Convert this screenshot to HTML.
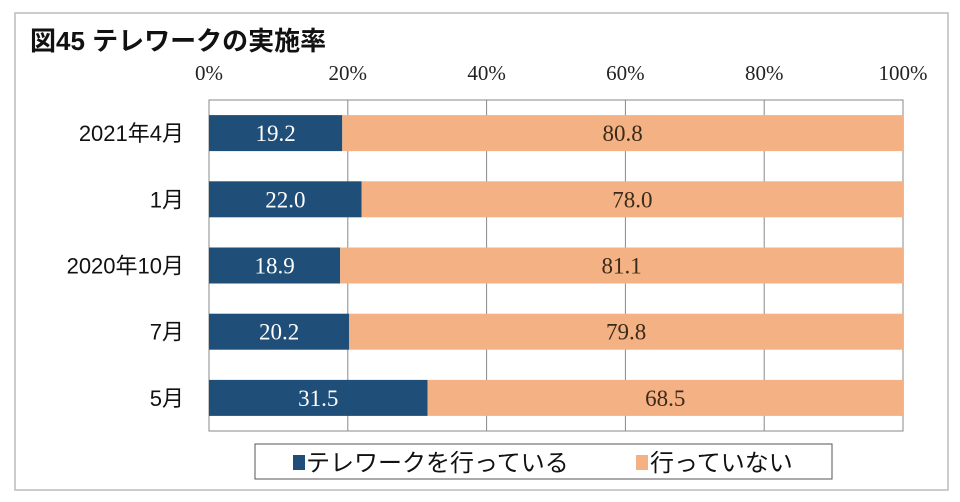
<!DOCTYPE html>
<html><head><meta charset="utf-8"><style>
body{margin:0;width:960px;height:502px;background:#fff;overflow:hidden}
svg{display:block}
.jp{font-family:"Liberation Sans","Noto Sans CJK JP",sans-serif}
.sf{font-family:"Liberation Serif","Noto Serif CJK SC",serif}
</style></head><body>
<svg width="960" height="502">
<rect x="15" y="13" width="933" height="477" fill="#fff" stroke="#bbb" stroke-width="1.5"/>
<text x="30" y="50" class="jp" font-size="26" font-weight="bold" fill="#111">図45 テレワークの実施率</text>
<g id="grid"></g><g id="bars"></g><g id="ticks"></g><g id="cats"></g>
<g>
<rect x="255" y="444" width="577" height="35" fill="#fff" stroke="#555" stroke-width="1"/>
<rect x="293" y="455" width="12" height="15" fill="#1f4e79"/>
<text x="306" y="471" class="jp" font-size="24" fill="#111">テレワークを行っている</text>
<rect x="636" y="455" width="12" height="15" fill="#f4b183"/>
<text x="650" y="471" class="jp" font-size="24" fill="#111">行っていない</text>
</g>
</svg>
<script>
const categories=["2021年4月","1月","2020年10月","7月","5月"];
const doing=[19.2,22.0,18.9,20.2,31.5];
const notDoing=[80.8,78.0,81.1,79.8,68.5];
const ticks=[0,20,40,60,80,100];
const NS="http://www.w3.org/2000/svg";
const X0=209,X1=903,Y0=100,Y1=431;
const x=v=>X0+(X1-X0)*v/100;
const band=(Y1-Y0)/categories.length, bh=36;
const yc=i=>Y0+band*(i+0.5);
function mk(t,a,p){const e=document.createElementNS(NS,t);for(const k in a)e.setAttribute(k,a[k]);p.appendChild(e);return e;}
const grid=document.getElementById('grid'),bars=document.getElementById('bars'),tk=document.getElementById('ticks'),cats=document.getElementById('cats');
mk('rect',{x:X0,y:Y0,width:X1-X0,height:Y1-Y0,fill:'none',stroke:'#888','stroke-width':1},grid);
ticks.forEach(t=>{
 const l=mk('line',{x1:x(t),x2:x(t),y1:Y0,y2:Y1,stroke:'#888','stroke-width':1},grid);
 
 
 const tx=mk('text',{x:x(t),y:80,'text-anchor':'middle','font-size':21,fill:'#222',class:'sf'},tk);
 tx.textContent=t+'%';
 
 
});
categories.forEach((c,i)=>{
 const y=yc(i)-bh/2;
 const a=mk('rect',{x:x(0),y:y,width:x(doing[i])-x(0),height:bh,fill:'#1f4e79'},bars);
 
 
 const b=mk('rect',{x:x(doing[i]),y:y,width:x(doing[i]+notDoing[i])-x(doing[i]),height:bh,fill:'#f4b183'},bars);
 
 
 const t1=mk('text',{x:(x(0)+x(doing[i]))/2,y:yc(i)+8,'text-anchor':'middle','font-size':23,fill:'#fff',class:'sf'},bars);
 t1.textContent=doing[i].toFixed(1);
 
 
 const t2=mk('text',{x:(x(doing[i])+x(doing[i]+notDoing[i]))/2,y:yc(i)+8,'text-anchor':'middle','font-size':23,fill:'#3a2a1a',class:'sf'},bars);
 t2.textContent=notDoing[i].toFixed(1);
 
 
 const cl=mk('text',{x:184,y:yc(i)+8,'text-anchor':'end','font-size':22,fill:'#111',class:'jp'},cats);
 cl.textContent=c;
 
 
});
</script>
</body></html>
